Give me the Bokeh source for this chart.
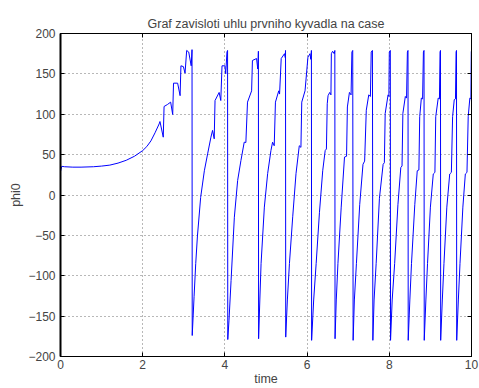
from bokeh.plotting import figure
from bokeh.models import Range1d, FixedTicker, LinearAxis, CustomJSTickFormatter
from bokeh.embed import file_html
from bokeh.resources import INLINE

# time samples (s) and angle phi0 (deg)
time = [0.0, 0.03, 0.1, 0.3, 0.5, 0.8, 1.0, 1.2, 1.4, 1.6, 1.8, 2.0, 2.1, 2.2, 2.3, 2.4, 2.42,
        2.5, 2.52, 2.6, 2.68, 2.73, 2.75, 2.85, 2.91, 2.93, 2.99, 3.03, 3.07, 3.12, 3.18, 3.2, 3.205,
        3.25, 3.29, 3.33, 3.41, 3.5, 3.58, 3.66, 3.70, 3.74, 3.76, 3.86, 3.90, 3.93, 4.0, 4.02, 4.05, 4.065, 4.07,
        4.1, 4.15, 4.23, 4.31, 4.39, 4.47, 4.51, 4.55, 4.65, 4.67, 4.77, 4.80, 4.815, 4.82,
        4.85, 4.88, 4.96, 5.04, 5.12, 5.16, 5.2, 5.23, 5.31, 5.33, 5.37, 5.45, 5.47, 5.475, 5.48,
        5.52, 5.57, 5.65, 5.73, 5.81, 5.85, 5.87, 5.95, 6.02, 6.07, 6.09, 6.105, 6.11,
        6.16, 6.22, 6.3, 6.38, 6.44, 6.47, 6.49, 6.51, 6.55, 6.58, 6.59, 6.62, 6.66, 6.675, 6.68,
        6.71, 6.75, 6.83, 6.91, 6.96, 6.98, 7.03, 7.07, 7.09, 7.11, 7.12,
        7.15, 7.2, 7.28, 7.36, 7.40, 7.44, 7.5, 7.54, 7.56, 7.59, 7.6,
        7.63, 7.68, 7.76, 7.85, 7.88, 7.90, 7.97, 7.99, 8.0, 8.025, 8.03,
        8.07, 8.13, 8.21, 8.28, 8.31, 8.33, 8.39, 8.42, 8.44, 8.455, 8.46,
        8.5, 8.54, 8.62, 8.68, 8.72, 8.74, 8.78, 8.81, 8.83, 8.845, 8.85,
        8.89, 8.93, 9.0, 9.07, 9.11, 9.13, 9.19, 9.22, 9.235, 9.245, 9.25,
        9.29, 9.33, 9.4, 9.47, 9.51, 9.54, 9.58, 9.61, 9.625, 9.635, 9.64,
        9.68, 9.72, 9.79, 9.85, 9.89, 9.92, 9.96, 9.985, 9.995, 10.0, 10.005]
phi0 = [29, 35.5, 35, 34.5, 34.5, 35, 35.8, 37, 39.5, 43, 48, 55, 60, 67, 77, 88, 91,
        71.6, 109.6, 112, 115, 99.7, 138.5, 138.5, 123, 160, 159, 150.8, 179, 177, 160, 180, -174,
        -126, -85, -52, -3, 30, 51, 71.6, 80, 69.6, 117, 127, 117, 160, 160, 150, 177, 179, -179,
        -155, -106, -27.5, 18, 42.7, 65.4, 65, 115, 129, 166.6, 169, 156, 178, -178,
        -130, -85, -15, 26.5, 55, 65.4, 61, 115, 129, 125, 169, 175, 170, 179, -176,
        -130, -85, -27, 26.5, 61, 59, 115, 129, 170.7, 175, 168, 179, -180,
        -130, -85, -22, 30, 55, 57, 113, 123, 127, 124, 175, 178, 175, 179, -178,
        -130, -85, -15, 47, 48, 109, 127, 124, 177, 179, -180,
        -130, -85, -12, 38, 42, 105, 124, 122, 177, 179, -180,
        -130, -85, -4, 38, 40, 101, 124, 122, 177, 179, -180,
        -130, -85, -12, 34, 36, 101, 122, 120, 177, 179, -180,
        -130, -85, -12, 30, 31, 97, 120, 119, 177, 179, -180,
        -130, -85, -15, 26, 28, 97, 120, 119, 177, 179, -180,
        -130, -85, -15, 26, 28, 97, 118, 119, 177, 179, -180,
        -130, -85, -15, 26, 28, 97, 120, 119, 177, 179, -180]

x_ticks = [0, 2, 4, 6, 8, 10]
y_ticks = [-200, -150, -100, -50, 0, 50, 100, 150, 200]

FONT = "Liberation Sans"

p = figure(width=479, height=388, output_backend="svg", toolbar_location=None,
           x_range=Range1d(0, 10), y_range=Range1d(-200, 200),
           min_border_left=60, min_border_right=8, min_border_top=33, min_border_bottom=32,
           title="Graf zavisloti uhlu prvniho kyvadla na case")

p.title.align = "center"
p.title.text_font = FONT
p.title.text_font_size = "12.5px"
p.title.text_font_style = "normal"
p.title.standoff = 5

p.line(time, phi0, line_color="#0000ff", line_width=1)

fmt = CustomJSTickFormatter(code="return tick.toString().replace('-', '\u2212');")
blank = CustomJSTickFormatter(code="return '';")

for ax in (p.xaxis[0], p.yaxis[0]):
    ax.major_label_text_font = FONT
    ax.major_label_text_font_size = "12px"
    ax.axis_label_text_font = FONT
    ax.axis_label_text_font_size = "12.5px"
    ax.axis_label_text_font_style = "normal"
    ax.major_tick_in = 4
    ax.major_tick_out = 0
    ax.minor_tick_line_color = None
    ax.axis_line_color = "black"
    ax.major_tick_line_color = "black"
    ax.formatter = fmt

p.xaxis[0].ticker = FixedTicker(ticks=x_ticks)
p.yaxis[0].ticker = FixedTicker(ticks=y_ticks)
p.xaxis[0].axis_label = "time"
p.yaxis[0].axis_label = "phi0"
p.xaxis[0].major_label_standoff = 3
p.xaxis[0].axis_label_standoff = 0
p.yaxis[0].major_label_standoff = 5
p.yaxis[0].axis_label_standoff = 2
p.yaxis[0].axis_line_width = 2

# mirrored tick marks on right and top (MATLAB box style)
right = LinearAxis(ticker=FixedTicker(ticks=y_ticks), formatter=blank,
                   major_tick_in=4, major_tick_out=0, minor_tick_line_color=None,
                   major_label_standoff=0, axis_line_color="black")
top = LinearAxis(ticker=FixedTicker(ticks=x_ticks), formatter=blank,
                 major_tick_in=4, major_tick_out=0, minor_tick_line_color=None,
                 major_label_standoff=0, axis_line_color="black")
p.add_layout(right, "right")
p.add_layout(top, "above")

p.xgrid.ticker = FixedTicker(ticks=x_ticks)
p.ygrid.ticker = FixedTicker(ticks=y_ticks)
for g in (p.xgrid[0], p.ygrid[0]):
    g.grid_line_color = "#707070"
    g.grid_line_dash = "1 3"
    g.grid_line_width = 1

p.outline_line_color = "black"
p.background_fill_color = "white"
p.border_fill_color = "white"

open("out.html", "w").write(file_html(p, INLINE))
